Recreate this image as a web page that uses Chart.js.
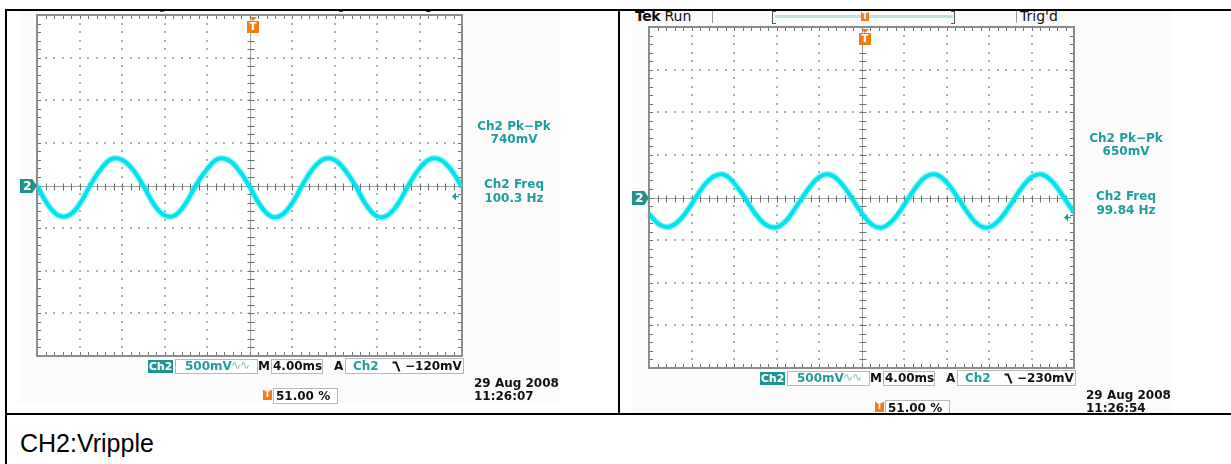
<!DOCTYPE html>
<html>
<head>
<meta charset="utf-8">
<script src="https://cdn.jsdelivr.net/npm/chart.js@4.4.0/dist/chart.umd.min.js"></script>
<style>
  html, body { margin: 0; padding: 0; background: #fff; width: 1231px; height: 464px; overflow: hidden; font-family: "DejaVu Sans", sans-serif; }
  .line { position: absolute; background: #000; }
  .cell { position: absolute; overflow: hidden; }
  .scope { position: absolute; }
  .abs { position: absolute; white-space: nowrap; }
  .bx { position: absolute; border: 1px solid #b8b8b8; background: #fff; box-sizing: border-box; }
  .t { font-weight: bold; font-size: 12px; line-height: 13px; color: #111; }
  .teal { color: #1c9e9e; }
  #caption { position: absolute; left: 20px; top: 431px; font-family: "Liberation Sans", Arial, sans-serif; font-size: 25px; line-height: 25px; color: #000; }
</style>
</head>
<body>
<div class="line" style="left:5px;top:9px;width:1226px;height:2px"></div>
<div class="line" style="left:5px;top:9px;width:2px;height:455px"></div>
<div class="line" style="left:618px;top:9px;width:2px;height:406px"></div>
<div class="line" style="left:5px;top:413px;width:1226px;height:2px"></div>
<div class="cell" id="cellLeft" style="left:7px;top:11px;width:611px;height:402px"></div>
<div class="cell" id="cellRight" style="left:620px;top:11px;width:611px;height:402px"></div>
<div id="caption">CH2:Vripple</div>

<script>
// time axis, ms (4.00ms/div, 10 div)
const timeMs = [0,1,2,3,4,5,6,7,8,9,10,11,12,13,14,15,16,17,18,19,20,
  21,22,23,24,25,26,27,28,29,30,31,32,33,34,35,36,37,38,39,40];
// CH2 ripple, volts
const rippleLeft = [0.00,-0.22,-0.35,-0.35,-0.22,0.00,0.19,0.31,0.30,0.19,0.00,
  -0.22,-0.35,-0.35,-0.21,0.01,0.19,0.31,0.30,0.18,-0.01,
  -0.23,-0.36,-0.35,-0.21,0.01,0.20,0.31,0.30,0.18,-0.01,
  -0.23,-0.36,-0.35,-0.21,0.01,0.20,0.31,0.30,0.18,-0.02];
const rippleRight = [-0.19,-0.32,-0.34,-0.25,-0.08,0.11,0.24,0.27,0.17,0.00,
  -0.19,-0.32,-0.35,-0.26,-0.08,0.10,0.24,0.27,0.18,0.01,
  -0.18,-0.32,-0.35,-0.26,-0.09,0.10,0.24,0.27,0.18,0.01,
  -0.18,-0.32,-0.35,-0.26,-0.09,0.10,0.24,0.27,0.18,0.01,-0.18];
// graticule divisions
const timeTicks = [0,4,8,12,16,20,24,28,32,36,40];
const voltTicks = [-2,-1.5,-1,-0.5,0,0.5,1,1.5,2];
// readouts
const readLeft = ['Ch2 Pk\u2212Pk', '740mV', 'Ch2 Freq', '100.3 Hz'];
const readRight = ['Ch2 Pk\u2212Pk', '650mV', 'Ch2 Freq', '99.84 Hz'];
const trigLeft = -0.12;
const trigRight = -0.23;
const stampLeft = ['29 Aug 2008', '11:26:07'];
const stampRight = ['29 Aug 2008', '11:26:54'];

// scope graticule: dotted divisions, centre cross and frame with minor ticks
const graticule = {
  id: 'graticule',
  beforeDatasetsDraw(chart) {
    const { ctx, chartArea: a, scales: { x, y } } = chart;
    const dx = (x.getPixelForValue(timeTicks[1]) - x.getPixelForValue(timeTicks[0])) / 5;
    const dy = (y.getPixelForValue(voltTicks[0]) - y.getPixelForValue(voltTicks[1])) / 5;
    const cx = Math.round(x.getPixelForValue(20)) + 0.5;
    const cy = Math.round(y.getPixelForValue(0)) + 0.5;
    ctx.save();
    ctx.fillStyle = '#fff';
    ctx.fillRect(a.left, a.top, a.width, a.height);

    ctx.fillStyle = '#adadad';
    timeTicks.forEach((t, i) => {
      if (i === 0 || i === timeTicks.length - 1 || t === 20) return;
      const px = Math.round(x.getPixelForValue(t));
      for (let py = a.top + dy; py < a.bottom - 2; py += dy) ctx.fillRect(px - 1, Math.round(py) - 1, 2, 2);
    });
    voltTicks.forEach((v, i) => {
      if (i === 0 || i === voltTicks.length - 1 || v === 0) return;
      const py = Math.round(y.getPixelForValue(v));
      for (let px = a.left + dx; px < a.right - 2; px += dx) ctx.fillRect(Math.round(px) - 1, py - 1, 2, 2);
    });

    // centre cross
    ctx.strokeStyle = '#a0a0a0';
    ctx.lineWidth = 1;
    ctx.beginPath();
    ctx.moveTo(a.left, cy); ctx.lineTo(a.right, cy);
    ctx.moveTo(cx, a.top); ctx.lineTo(cx, a.bottom);
    ctx.stroke();
    ctx.strokeStyle = '#6e6e6e';
    ctx.beginPath();
    for (let px = a.left + dx; px < a.right - 2; px += dx) {
      const p = Math.round(px) + 0.5;
      ctx.moveTo(p, cy - 3); ctx.lineTo(p, cy + 4);
    }
    for (let py = a.top + dy; py < a.bottom - 2; py += dy) {
      const p = Math.round(py) + 0.5;
      ctx.moveTo(cx - 3, p); ctx.lineTo(cx + 4, p);
    }
    // frame ticks
    for (let px = a.left + dx; px < a.right - 2; px += dx) {
      const p = Math.round(px) + 0.5;
      ctx.moveTo(p, a.top); ctx.lineTo(p, a.top + 4);
      ctx.moveTo(p, a.bottom); ctx.lineTo(p, a.bottom - 4);
    }
    for (let py = a.top + dy; py < a.bottom - 2; py += dy) {
      const p = Math.round(py) + 0.5;
      ctx.moveTo(a.left, p); ctx.lineTo(a.left + 4, p);
      ctx.moveTo(a.right, p); ctx.lineTo(a.right - 4, p);
    }
    ctx.stroke();
    ctx.strokeStyle = '#8c8c8c';
    ctx.lineWidth = 2;
    ctx.strokeRect(a.left, a.top, a.width, a.height);
    ctx.restore();
  },
  afterDatasetsDraw(chart, args, opts) {
    // trigger level arrow on the right edge
    const { ctx, chartArea: a, scales: { y } } = chart;
    const py = Math.round(y.getPixelForValue(opts.level)) + 0.5;
    ctx.save();
    ctx.fillStyle = '#1c9e9e';
    ctx.strokeStyle = '#1c9e9e';
    ctx.lineWidth = 1.5;
    ctx.beginPath();
    ctx.moveTo(a.right - 10, py); ctx.lineTo(a.right - 6, py - 4); ctx.lineTo(a.right - 6, py + 4);
    ctx.closePath();
    ctx.fill();
    ctx.beginPath();
    ctx.moveTo(a.right - 7, py); ctx.lineTo(a.right - 3, py);
    ctx.stroke();
    ctx.restore();
  }
};

const slopeSvg = '<svg width="9" height="11" style="position:absolute;left:0;top:0"><polyline points="0.5,1.5 4,1.5 7.5,10.5" fill="none" stroke="#111" stroke-width="2"/></svg>';

function buildScope(cellId, ox, oy, values, read, level, stamp) {
  const sc = document.createElement('div');
  sc.className = 'scope';
  sc.style.left = ox + 'px';
  sc.style.top = oy + 'px';
  const lvl = (level < 0 ? '\u2212' : '') + Math.round(Math.abs(level) * 1000) + 'mV';
  sc.innerHTML = `
    <div class="abs" style="left:20px;top:-8px;width:540px;height:411px;background:#fbfbfb"></div>
    <div class="abs" style="left:23px;top:-3px;font-size:14px;line-height:14px;color:#111"><b style="letter-spacing:-0.5px">Tek</b> Run</div>
    <div class="abs" style="left:100px;top:-6px;width:1px;height:17px;background:#9a9a9a"></div>
    <div class="abs" style="left:160px;top:-1px;width:3px;height:11px;border:1px solid #555;border-right:none"></div>
    <div class="abs" style="left:163px;top:3px;width:178px;height:3px;background:#b9e1e1"></div>
    <div class="abs" style="left:339px;top:-1px;width:3px;height:11px;border:1px solid #555;border-left:none"></div>
    <div class="abs" style="left:404px;top:-6px;width:1px;height:17px;background:#9a9a9a"></div>
    <div class="abs" style="left:408px;top:-3px;font-size:14px;line-height:14px;color:#111">Trig'd</div>
    <canvas width="433" height="349" style="position:absolute;left:33px;top:11px"></canvas>
    <div class="abs" style="left:249px;top:0px;width:8px;height:9px;background:#f07c18;color:#fff;font:bold 8px/9px 'DejaVu Sans';text-align:center">T</div>
    <div class="abs" style="left:249px;top:17px;width:0;height:0;border-left:4px solid transparent;border-right:4px solid transparent;border-top:4px solid #f07c18"></div>
    <div class="abs" style="left:247px;top:21px;width:12px;height:12px;background:#f07c18;color:#fff;font:bold 10px/12px 'DejaVu Sans';text-align:center">T</div>
    <div class="abs" style="left:20px;top:179px;width:17px;height:14px;background:#22908f;clip-path:polygon(0 0,72% 0,100% 50%,72% 100%,0 100%);color:#fff;font:bold 12px/14px 'DejaVu Sans';text-indent:3px">2</div>
    <div class="abs t teal" style="left:464px;top:120px;width:100px;text-align:center">${read[0]}</div>
    <div class="abs t teal" style="left:464px;top:133px;width:100px;text-align:center">${read[1]}</div>
    <div class="abs t teal" style="left:464px;top:178px;width:100px;text-align:center">${read[2]}</div>
    <div class="abs t teal" style="left:464px;top:192px;width:100px;text-align:center">${read[3]}</div>
    <div class="abs t" style="left:148px;top:360px;width:25px;height:13px;background:#1a9494;color:#fff;text-align:center;font-size:11px">Ch2</div>
    <div class="bx" style="left:175px;top:359px;width:83px;height:15px"></div>
    <div class="abs t teal" style="left:185px;top:360px">500mV</div>
    <div class="abs teal" style="left:231px;top:359px;font-size:12px;line-height:13px;color:#7cc4c4;letter-spacing:-1px">\u223F\u223F</div>
    <div class="abs t" style="left:258px;top:360px">M</div>
    <div class="bx" style="left:271px;top:359px;width:52px;height:15px"></div>
    <div class="abs t" style="left:273px;top:360px">4.00ms</div>
    <div class="abs t" style="left:334px;top:360px">A</div>
    <div class="bx" style="left:345px;top:358px;width:119px;height:16px"></div>
    <div class="abs t teal" style="left:353px;top:360px">Ch2</div>
    <div class="abs" style="left:392px;top:361px;width:9px;height:11px">${slopeSvg}</div>
    <div class="abs t" style="left:405px;top:360px">${lvl}</div>
    <div class="abs" style="left:263px;top:390px;width:9px;height:10px;background:#f07c18;color:#fff;font:bold 8px/10px 'DejaVu Sans';text-align:center">T</div>
    <div class="bx" style="left:273px;top:388px;width:65px;height:16px"></div>
    <div class="abs t" style="left:276px;top:390px">51.00 %</div>
    <div class="abs t" style="left:474px;top:377px">${stamp[0]}</div>
    <div class="abs t" style="left:474px;top:390px">${stamp[1]}</div>
  `;
  document.getElementById(cellId).appendChild(sc);

  const points = timeMs.map((t, i) => ({ x: t, y: values[i] }));
  return new Chart(sc.querySelector('canvas'), {
    type: 'line',
    data: {
      datasets: [
        { data: points, borderColor: 'rgba(0,228,238,0.4)', borderWidth: 6.5, pointRadius: 0, tension: 0.4 },
        { data: points, borderColor: '#00e3ee', borderWidth: 4, pointRadius: 0, tension: 0.4 },
      ],
    },
    options: {
      responsive: false,
      animation: false,
      events: [],
      layout: { padding: 4 },
      plugins: {
        legend: { display: false },
        tooltip: { enabled: false },
        graticule: { level: level },
      },
      scales: {
        x: { type: 'linear', min: timeTicks[0], max: timeTicks[timeTicks.length - 1], display: false },
        y: { min: voltTicks[0], max: voltTicks[voltTicks.length - 1], display: false },
      },
    },
    plugins: [graticule],
  });
}

buildScope('cellLeft', -7, -11, rippleLeft, readLeft, trigLeft, stampLeft);
buildScope('cellRight', -8, 1, rippleRight, readRight, trigRight, stampRight);
</script>
</body>
</html>
